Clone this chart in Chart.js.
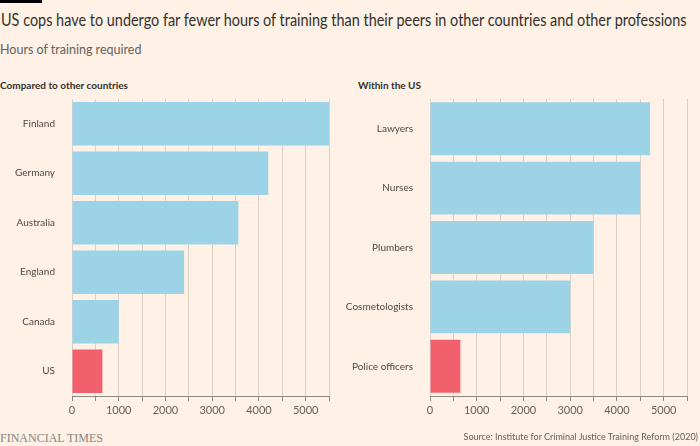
<!DOCTYPE html>
<html>
<head>
<meta charset="utf-8">
<script src="https://cdn.jsdelivr.net/npm/chart.js@4"></script>
<style>
  body { margin: 0; background: #fff1e5; width: 700px; height: 446px; overflow: hidden; position: relative; font-family: Lato, "Open Sans", sans-serif; }
  .bar { position: absolute; left: 0; top: 0; width: 42px; height: 3px; background: #000; }
  .title { position: absolute; left: 1px; top: 9px; font-size: 17px; color: #33302e; white-space: nowrap; transform-origin: left top; }
  .sub { position: absolute; left: 0; top: 42px; font-size: 12.5px; color: #66605c; }
  .panel { position: absolute; top: 79px; font-size: 10px; font-weight: bold; color: #33302e; }
  .ft { position: absolute; left: 0; top: 431px; font-family: "Liberation Serif", serif; font-size: 12px; color: #8a8380; }
  .src { position: absolute; right: 2px; top: 431px; font-size: 9px; color: #66605c; white-space: nowrap; }
  canvas { position: absolute; }
</style>
</head>
<body>
<div class="bar"></div>
<div class="title" id="title">US cops have to undergo far fewer hours of training than their peers in other countries and other professions</div>
<div class="sub">Hours of training required</div>
<div class="panel" style="left:0">Compared to other countries</div>
<div class="panel" style="left:358px">Within the US</div>
<div style="position:absolute;left:0;top:90px;width:345px;height:330px"><canvas id="left"></canvas></div>
<div style="position:absolute;left:330px;top:90px;width:370px;height:330px"><canvas id="right"></canvas></div>
<div class="ft">FINANCIAL TIMES</div>
<div class="src">Source: Institute for Criminal Justice Training Reform (2020)</div>
<script>
const countries = ['Finland', 'Germany', 'Australia', 'England', 'Canada', 'US'];
const countryHours = [5500, 4200, 3560, 2400, 1000, 650];
const professions = ['Lawyers', 'Nurses', 'Plumbers', 'Cosmetologists', 'Police officers'];
const professionHours = [4710, 4500, 3500, 3000, 650];
const xTickLabels = [0, 1000, 2000, 3000, 4000, 5000];

const blue = '#9dd3e6';
const red = '#f2606d';

// squeeze the headline to the reference width
const t = document.getElementById('title');
t.style.transform = 'scaleX(' + (686 / t.scrollWidth) + ')';

function makeChart(id, labels, values, highlight, yWidth, padRight, catPct) {
  const ctx = document.getElementById(id).getContext('2d');
  return new Chart(ctx, {
    type: 'bar',
    data: {
      labels: labels,
      datasets: [{
        data: values,
        backgroundColor: labels.map(l => l === highlight ? red : blue),
        borderWidth: 0,
        barPercentage: 1,
        categoryPercentage: catPct
      }]
    },
    options: {
      indexAxis: 'y',
      responsive: true,
      maintainAspectRatio: false,
      animation: false,
      layout: { padding: { top: 9, right: padRight, bottom: 0, left: 0 } },
      plugins: { legend: { display: false }, tooltip: { enabled: false } },
      scales: {
        x: {
          min: 0,
          max: 5500,
          ticks: {
            stepSize: 500,
            autoSkip: false,
            maxRotation: 0,
            padding: 3,
            color: '#66605c',
            font: { family: 'Lato', size: 11 },
            callback: v => xTickLabels.includes(v) ? String(v) : ''
          },
          grid: { color: 'rgba(102,96,92,0.22)', tickColor: '#8f8985', tickLength: 5 },
          border: { display: true, color: '#8f8985', width: 1 },
          afterFit: s => { s.height = 24; }
        },
        y: {
          grid: { display: false },
          border: { display: false },
          ticks: { color: '#4d4845', padding: 9, font: { family: 'Lato', size: 10 } },
          afterFit: s => { s.width = yWidth; s.paddingTop = 0; s.paddingBottom = 0; }
        }
      }
    }
  });
}

makeChart('left', countries, countryHours, 'US', 72, 16, 0.88);
makeChart('right', professions, professionHours, 'Police officers', 100, 13, 0.89);
</script>
</body>
</html>
